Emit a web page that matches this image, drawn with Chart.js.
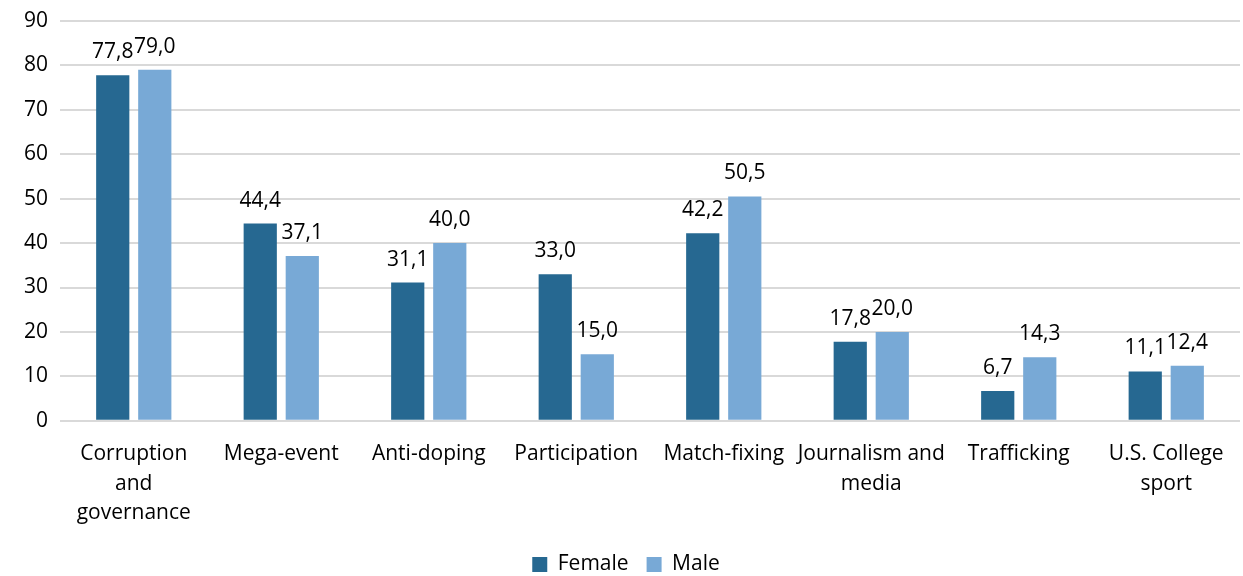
<!DOCTYPE html>
<html>
<head>
<meta charset="utf-8">
<script src="https://cdn.jsdelivr.net/npm/chart.js@4"></script>
<style>
  body { margin: 0; background: #fff; }
  #wrap { width: 1243px; height: 576px; }
</style>
</head>
<body>
<div id="wrap"><canvas id="chart"></canvas></div>
<script>
var categories = [
  ['Corruption', 'and', 'governance'],
  'Mega-event',
  'Anti-doping',
  'Participation',
  'Match-fixing',
  ['Journalism and', 'media'],
  'Trafficking',
  ['U.S. College', 'sport']
];
var female = [77.8, 44.4, 31.1, 33.0, 42.2, 17.8, 6.7, 11.1];
var male = [79.0, 37.1, 40.0, 15.0, 50.5, 20.0, 14.3, 12.4];
var yTicks = [0, 90, 10];

var fontName = "'Open Sans', 'Noto Sans', sans-serif";
var fontSize = 21;

// draw the value above each bar, with a comma decimal
var barLabels = {
  id: 'barLabels',
  afterDatasetsDraw: function(chart) {
    var ctx = chart.ctx;
    ctx.save();
    ctx.font = fontSize + 'px ' + fontName;
    ctx.fillStyle = '#000';
    ctx.textAlign = 'center';
    ctx.textBaseline = 'alphabetic';
    chart.data.datasets.forEach(function(ds, i) {
      chart.getDatasetMeta(i).data.forEach(function(bar, j) {
        var txt = ds.data[j].toFixed(1).replace('.', ',');
        ctx.fillText(txt, bar.x, bar.y - 17);
      });
    });
    ctx.restore();
  }
};

new Chart(document.getElementById('chart'), {
  type: 'bar',
  data: {
    labels: categories,
    datasets: [{
      label: 'Female',
      data: female,
      backgroundColor: '#266891',
      categoryPercentage: 0.57,
      barPercentage: 0.79
    }, {
      label: 'Male',
      data: male,
      backgroundColor: '#78a9d6',
      categoryPercentage: 0.57,
      barPercentage: 0.79
    }]
  },
  options: {
    responsive: true,
    maintainAspectRatio: false,
    animation: false,
    layout: { padding: { top: 0, right: 3, left: 12, bottom: -9 } },
    plugins: {
      legend: {
        position: 'bottom',
        labels: {
          font: { family: fontName, size: fontSize },
          color: '#000',
          boxWidth: 15,
          boxHeight: 15,
          padding: 18
        }
      },
      tooltip: { enabled: false }
    },
    scales: {
      x: {
        grid: { display: false },
        border: { display: false },
        ticks: {
          color: '#000',
          font: { family: fontName, size: fontSize, lineHeight: 1.4 },
          maxRotation: 0,
          autoSkip: false,
          padding: 11
        },
        afterFit: function(scale) { scale.height -= 3; }
      },
      y: {
        min: yTicks[0],
        max: yTicks[1],
        ticks: {
          stepSize: yTicks[2],
          color: '#000',
          font: { family: fontName, size: fontSize, lineHeight: 0.85 },
          padding: 12
        },
        grid: { color: '#d9d9d9', lineWidth: 2, drawTicks: false },
        border: { display: false }
      }
    }
  },
  plugins: [barLabels]
});
</script>
</body>
</html>
